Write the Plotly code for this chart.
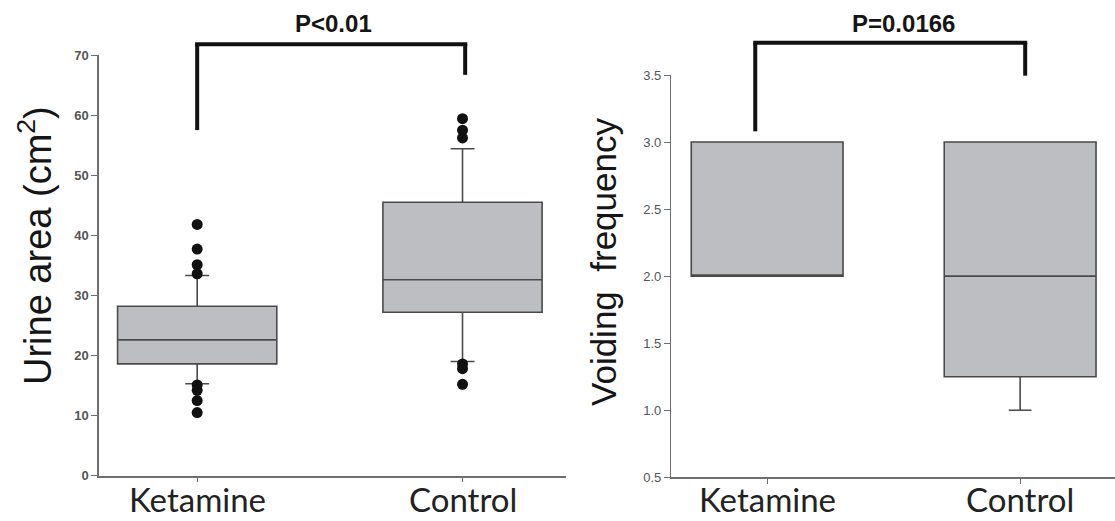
import plotly.graph_objects as go

# ---------------- data ----------------
categories = ["Ketamine", "Control"]

# Left panel: urine area (cm2)
area_q1 = [18.6, 27.2]
area_median = [22.6, 32.6]
area_q3 = [28.2, 45.5]
area_lower = [15.3, 19.0]
area_upper = [33.3, 54.4]
area_out_ket = [41.8, 37.7, 35.1, 33.6, 15.1, 14.2, 12.5, 10.5]
area_out_ctl = [59.4, 57.5, 56.2, 18.6, 17.8, 15.2]

# Right panel: voiding frequency
void_q1 = [2.0, 1.25]
void_median = [2.0, 2.0]
void_q3 = [3.0, 3.0]
void_lower = [2.0, 1.0]
void_upper = [3.0, 3.0]

# significance brackets (left leg bottom, top, right leg bottom)
bracket_left = [57.5, 71.8, 66.7]
bracket_right = [3.08, 3.74, 3.495]
p_left = "P<0.01"
p_right = "P=0.0166"

left_range = [0, 70]
right_range = [0.5, 3.5]

# ---------------- styles ----------------
BOX_FILL = "#bdbec1"
BOX_LINE = "#4a4a4a"
AX_COL = "#6e6e6e"
TICK_COL = "#555555"

fig = go.Figure()

fig.add_trace(go.Box(
    x=categories, q1=area_q1, median=area_median, q3=area_q3,
    lowerfence=area_lower, upperfence=area_upper,
    width=0.6, whiskerwidth=0.15, fillcolor=BOX_FILL,
    line=dict(color=BOX_LINE, width=1.6),
    boxpoints=False, xaxis="x", yaxis="y", showlegend=False))

fig.add_trace(go.Scatter(
    x=[categories[0]] * len(area_out_ket) + [categories[1]] * len(area_out_ctl),
    y=area_out_ket + area_out_ctl, mode="markers",
    marker=dict(color="#111111", size=11), xaxis="x", yaxis="y",
    showlegend=False, cliponaxis=False))

fig.add_trace(go.Box(
    x=categories, q1=void_q1, median=void_median, q3=void_q3,
    lowerfence=void_lower, upperfence=void_upper,
    width=0.6, whiskerwidth=0.15, fillcolor=BOX_FILL,
    line=dict(color=BOX_LINE, width=1.6),
    boxpoints=False, xaxis="x2", yaxis="y2", showlegend=False))

# ---------------- brackets ----------------
def frac(v, rng):
    return (v - rng[0]) / (rng[1] - rng[0])

def bracket(xref, yref, vals, rng, x0, x1):
    lb, top, rb = [frac(v, rng) for v in vals]
    style = dict(color="#111111", width=4)
    fig.add_shape(type="line", xref=xref, yref=yref, x0=x0, x1=x0, y0=lb, y1=top, line=style)
    fig.add_shape(type="line", xref=xref, yref=yref, x0=x0 - 0.008, x1=x1 + 0.008, y0=top, y1=top, line=style)
    fig.add_shape(type="line", xref=xref, yref=yref, x0=x1, x1=x1, y0=top, y1=rb, line=style)

bracket("x", "y domain", bracket_left, left_range, 0.0, 1.01)
bracket("x2", "y2 domain", bracket_right, right_range, -0.047, 1.02)

W, H = 1115, 521

def note(text, x, y, size, bold=False, angle=0):
    fig.add_annotation(text=text, xref="paper", yref="paper", x=x / W, y=1 - y / H,
                       xanchor="center", yanchor="middle", textangle=angle, showarrow=False,
                       font=dict(family="Liberation Sans", size=size, color="#151515",
                                 weight="bold" if bold else "normal"))

note(p_left, 333, 24, 24, bold=True)
note(p_right, 903, 24, 24, bold=True)
note("Urine area (cm<sup>2</sup>)", 35, 246, 38, angle=-90)
note("Voiding  frequency", 603, 262, 35, angle=-90)

# category labels under the axes
xfont = dict(family="Lato", size=33, color="#222222")
for xr in ("x", "x2"):
    for c in categories:
        fig.add_annotation(text=c, xref=xr, yref="paper", x=c, y=1 - 520 / H,
                           xanchor="center", yanchor="bottom", borderpad=0,
                           showarrow=False, font=xfont)

fig.update_layout(
    width=W, height=H, margin=dict(l=0, r=0, t=0, b=0, autoexpand=False),
    plot_bgcolor="white", paper_bgcolor="white",
    xaxis=dict(domain=[99 / W, 566 / W], range=[-0.37, 1.39], type="category",
               showline=True, linecolor=AX_COL, linewidth=1.5, ticks="outside",
               ticklen=5, tickcolor=AX_COL, showticklabels=False, showgrid=False,
               zeroline=False, automargin=False, anchor="y"),
    yaxis=dict(domain=[1 - 475.7 / H, 1 - 55 / H], range=left_range, dtick=10,
               showline=True, linecolor=AX_COL, linewidth=1.5, ticks="outside",
               ticklen=6, tickcolor=AX_COL, showgrid=False, zeroline=False,
               tickfont=dict(family="Liberation Sans", size=13, color=TICK_COL, weight="bold"),
               automargin=False, anchor="x"),
    xaxis2=dict(domain=[671 / W, 1.0], range=[-0.38, 1.375], type="category",
                showline=True, linecolor=AX_COL, linewidth=1.5, ticks="outside",
                ticklen=5, tickcolor=AX_COL, showticklabels=False, showgrid=False,
                zeroline=False, automargin=False, anchor="y2"),
    yaxis2=dict(domain=[1 - 477.3 / H, 1 - 75 / H], range=right_range, dtick=0.5,
                tickformat=".1f", showline=True, linecolor=AX_COL, linewidth=1.2,
                ticks="outside", ticklen=6, tickcolor=AX_COL, showgrid=False, zeroline=False,
                tickfont=dict(family="Liberation Sans", size=13, color=TICK_COL),
                automargin=False, anchor="x2"),
)

post = ("document.documentElement.style.margin='0px';"
        "document.documentElement.style.overflow='hidden';"
        "document.body.style.margin='0px';"
        "document.body.style.overflow='hidden';"
        "var gd=document.getElementById('{plot_id}');"
        "gd.style.position='fixed';gd.style.top='0px';gd.style.left='0px';")

fig.write_html("out.html", config={"displayModeBar": False}, post_script=post)
